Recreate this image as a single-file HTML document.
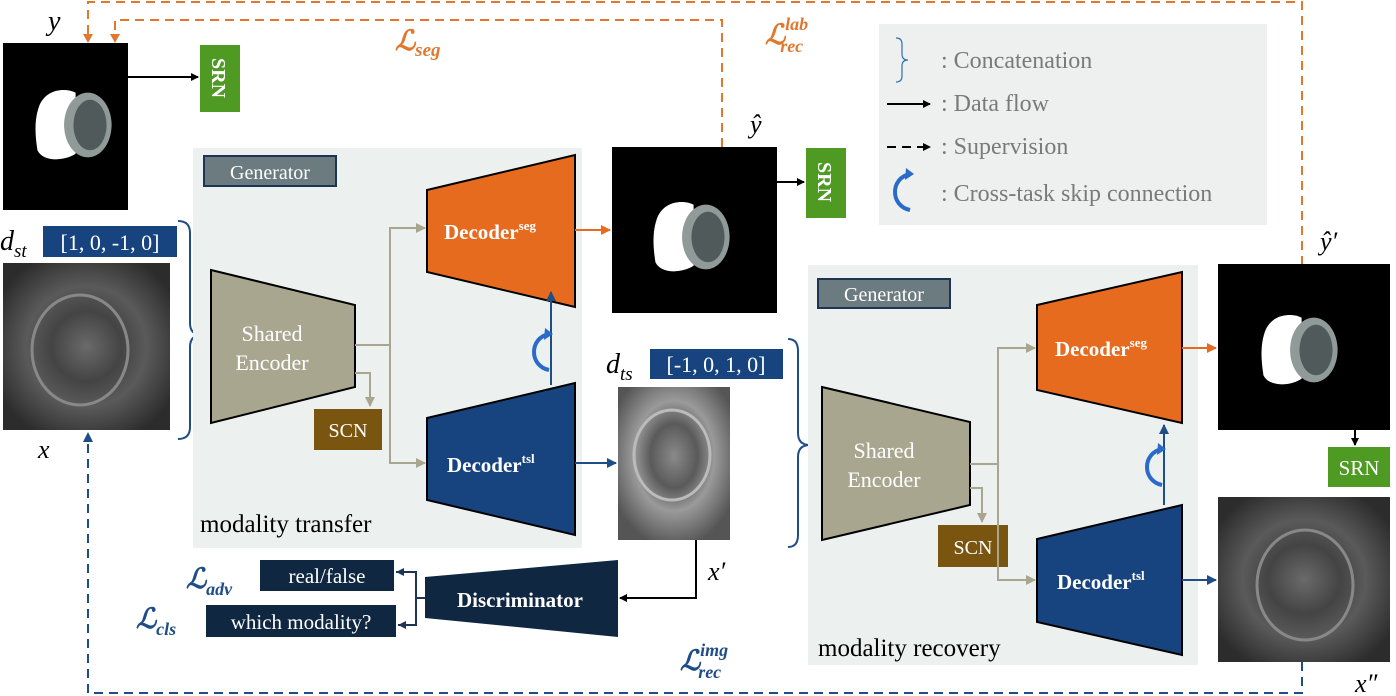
<!DOCTYPE html>
<html><head><meta charset="utf-8"><style>
html,body{margin:0;padding:0;background:#fff;}
svg{display:block;}
text{font-family:"Liberation Serif",serif;}
.w{fill:#fff;font-family:"Liberation Sans",sans-serif;}
.s{fill:#fff;font-family:"Liberation Serif",serif;}
.lg{fill:#7a7a7a;font-size:24px;}
</style></head><body>
<svg width="1396" height="696" viewBox="0 0 1396 696" xmlns="http://www.w3.org/2000/svg">
<defs>
<marker id="ab" markerWidth="8" markerHeight="8" refX="7" refY="4" orient="auto" markerUnits="userSpaceOnUse"><path d="M0,0 L8,4 L0,8z" fill="#000"/></marker>
<marker id="ao" markerWidth="10" markerHeight="10" refX="9" refY="5" orient="auto" markerUnits="userSpaceOnUse"><path d="M0,0 L10,5 L0,10z" fill="#e66b1e"/></marker>
<marker id="abl" markerWidth="10" markerHeight="10" refX="9" refY="5" orient="auto" markerUnits="userSpaceOnUse"><path d="M0,0 L10,5 L0,10z" fill="#1f4d86"/></marker>
<marker id="ag" markerWidth="10" markerHeight="10" refX="9" refY="5" orient="auto" markerUnits="userSpaceOnUse"><path d="M0,0 L10,5 L0,10z" fill="#a9a68f"/></marker>
<radialGradient id="mri" cx="50%" cy="50%" r="60%">
<stop offset="0" stop-color="#6a6a6a"/><stop offset="0.35" stop-color="#444"/><stop offset="0.6" stop-color="#5a5a5a"/><stop offset="1" stop-color="#2c2c2c"/></radialGradient>
<radialGradient id="mri2" cx="50%" cy="45%" r="60%">
<stop offset="0" stop-color="#8a8a8a"/><stop offset="0.35" stop-color="#5a5a5a"/><stop offset="0.6" stop-color="#9a9a9a"/><stop offset="1" stop-color="#555"/></radialGradient>
<g id="seg" transform="scale(0.72)">
<path d="M-45,-28 C-35,-50 -10,-52 5,-45 L5,40 C-10,50 -40,52 -48,35 C-52,10 -52,-10 -45,-28z" fill="#fff"/>
<ellipse cx="22" cy="0" rx="33" ry="45" fill="#8f9a99"/>
<ellipse cx="25" cy="0" rx="23" ry="35" fill="#505a5b"/>
</g>
<g id="skip"><path d="M8,-18 C-12,-14 -12,14 8,18" fill="none" stroke="#2a6ac8" stroke-width="4"/><path d="M4,-24 L12,-18 L3,-12z" fill="#2a6ac8"/></g>
</defs>

<g fill="none" stroke="#e0792f" stroke-width="2" stroke-dasharray="9,6">
<path d="M1302,265 V2 H88 V36"/>
<path d="M722,147 V20 H115 V36"/>
</g>
<path d="M83,34 L93,34 L88,43z M110,34 L120,34 L115,43z" fill="#e0792f"/>
<g fill="none" stroke="#1f4d86" stroke-width="2" stroke-dasharray="9,6">
<path d="M1302,662 V693 H88 V440"/>
</g>
<path d="M83,442 L93,442 L88,432z" fill="#1f4d86"/>

<text x="48" y="30" font-size="28" font-style="italic">y</text>
<text x="395" y="50" font-size="28" font-style="italic" font-weight="bold" fill="#e0792f">ℒ<tspan font-size="19" dy="6">seg</tspan></text>
<text x="765" y="44" font-size="28" font-style="italic" font-weight="bold" fill="#e0792f">ℒ<tspan font-size="18" dy="-14">lab</tspan><tspan font-size="18" dy="22" dx="-28">rec</tspan></text>

<rect x="879" y="24" width="388" height="201" fill="#edf0ef"/>
<path d="M896,38 q6,0 6,6 v10 q0,6 6,6 q-6,0 -6,6 v10 q0,6 -6,6" fill="none" stroke="#2f6fb3" stroke-width="1.2"/>
<text x="941" y="68" class="lg">: Concatenation</text>
<line x1="887" y1="104" x2="930" y2="104" stroke="#000" stroke-width="2" marker-end="url(#ab)"/>
<text x="941" y="111" class="lg">: Data flow</text>
<line x1="887" y1="147" x2="930" y2="147" stroke="#000" stroke-width="2" stroke-dasharray="9,6" marker-end="url(#ab)"/>
<text x="941" y="154" class="lg">: Supervision</text>
<use href="#skip" x="902" y="192"/>
<text x="941" y="201" class="lg">: Cross-task skip connection</text>

<rect x="3" y="43" width="125" height="167" fill="#000"/>
<use href="#seg" x="72" y="125"/>
<line x1="128" y1="77" x2="198" y2="77" stroke="#000" stroke-width="2" marker-end="url(#ab)"/>
<rect x="200" y="45" width="40" height="67" fill="#4e9a22"/>
<text class="s" font-weight="bold" font-size="20" transform="translate(212,58) rotate(90)">SRN</text>

<text x="0" y="250" font-size="28" font-style="italic">d<tspan font-size="19" dy="7">st</tspan></text>
<rect x="43" y="226" width="134" height="31" fill="#17447f"/>
<text x="110" y="250" class="s" font-size="22" text-anchor="middle">[1, 0, -1, 0]</text>
<rect x="3" y="263" width="167" height="167" fill="url(#mri)"/>
<ellipse cx="80" cy="350" rx="48" ry="55" fill="none" stroke="#888" stroke-width="3"/>
<text x="38" y="458" font-size="26" font-style="italic">x</text>
<path d="M178,221 q12,0 12,12 v90 q0,12 12,12 q-12,0 -12,12 v80 q0,12 -12,12" fill="none" stroke="#1f4d86" stroke-width="2"/>

<rect x="193" y="148" width="389" height="400" fill="#ecf0ef"/>
<rect x="204" y="156" width="132" height="30" fill="#6b7b80" stroke="#1c3552" stroke-width="2"/>
<text x="270" y="179" class="s" font-size="20" text-anchor="middle">Generator</text>
<polygon points="211,270 355,305 355,387 211,423" fill="#a9a68f" stroke="#000" stroke-width="2"/>
<text x="272" y="341" class="s" font-size="22" text-anchor="middle">Shared</text>
<text x="272" y="370" class="s" font-size="22" text-anchor="middle">Encoder</text>
<polygon points="427,190 575,155 575,307 427,272" fill="#e66b1e" stroke="#000" stroke-width="2"/>
<text x="444" y="239" class="s" font-size="21" font-weight="bold">Decoder<tspan font-size="13" dy="-9">seg</tspan></text>
<polygon points="427,418 575,383 575,535 427,500" fill="#17447f" stroke="#000" stroke-width="2"/>
<text x="447" y="472" class="s" font-size="21" font-weight="bold">Decoder<tspan font-size="13" dy="-9">tsl</tspan></text>
<rect x="314" y="409" width="68" height="41" fill="#7a5510"/>
<text x="348" y="437" class="s" font-size="20" text-anchor="middle">SCN</text>
<g fill="none" stroke="#a9a68f" stroke-width="2">
<path d="M355,345 H390 V228 H425" marker-end="url(#ag)"/>
<path d="M390,345 V463 H425" marker-end="url(#ag)"/>
<path d="M355,373 H370 V406" marker-end="url(#ag)"/>
</g>
<line x1="551" y1="385" x2="551" y2="292" stroke="#1f4d86" stroke-width="2" marker-end="url(#abl)"/>
<use href="#skip" x="541" y="352"/>
<text x="200" y="532" font-size="25">modality transfer</text>
<line x1="575" y1="230" x2="610" y2="230" stroke="#e66b1e" stroke-width="2" marker-end="url(#ao)"/>
<line x1="575" y1="463" x2="616" y2="463" stroke="#1f4d86" stroke-width="2" marker-end="url(#abl)"/>

<text x="750" y="133" font-size="26" font-style="italic">ŷ</text>
<rect x="612" y="147" width="165" height="166" fill="#000"/>
<use href="#seg" x="690" y="237"/>
<line x1="777" y1="182" x2="804" y2="182" stroke="#000" stroke-width="2" marker-end="url(#ab)"/>
<rect x="806" y="148" width="40" height="70" fill="#4e9a22"/>
<text class="s" font-weight="bold" font-size="20" transform="translate(818,162) rotate(90)">SRN</text>

<text x="606" y="373" font-size="28" font-style="italic">d<tspan font-size="19" dy="7">ts</tspan></text>
<rect x="650" y="349" width="133" height="30" fill="#17447f"/>
<text x="716" y="372" class="s" font-size="22" text-anchor="middle">[-1, 0, 1, 0]</text>
<rect x="618" y="387" width="112" height="153" fill="url(#mri2)"/>
<ellipse cx="672" cy="455" rx="38" ry="45" fill="none" stroke="#bbb" stroke-width="3"/>
<text x="708" y="580" font-size="26" font-style="italic">x′</text>
<path d="M788,339 q10,0 10,12 v82 q0,12 12,12 q-12,0 -12,12 v78 q0,12 -10,12" fill="none" stroke="#1f4d86" stroke-width="2"/>
<path d="M696,540 V598 H620" fill="none" stroke="#000" stroke-width="2" marker-end="url(#ab)"/>

<polygon points="425,577 618,560 618,637 425,618" fill="#0f2740"/>
<text x="520" y="607" class="s" font-size="21" font-weight="bold" text-anchor="middle">Discriminator</text>
<path d="M425,598 H416 V572 H396 M416,598 V625 H398" fill="none" stroke="#1c3552" stroke-width="2"/>
<path d="M396,572 l8,-4 v8z M398,625 l8,-4 v8z" fill="#1c3552"/>
<rect x="260" y="560" width="134" height="31" fill="#0f2740"/>
<text x="327" y="583" class="s" font-size="21" text-anchor="middle">real/false</text>
<rect x="206" y="605" width="190" height="32" fill="#0f2740"/>
<text x="301" y="629" class="s" font-size="21" text-anchor="middle">which modality?</text>
<text x="186" y="588" font-size="28" font-style="italic" font-weight="bold" fill="#1f4d86">ℒ<tspan font-size="18" dy="7">adv</tspan></text>
<text x="136" y="628" font-size="28" font-style="italic" font-weight="bold" fill="#1f4d86">ℒ<tspan font-size="18" dy="7">cls</tspan></text>
<text x="680" y="670" font-size="28" font-style="italic" font-weight="bold" fill="#1f4d86">ℒ<tspan font-size="18" dy="-14">img</tspan><tspan font-size="18" dy="22" dx="-30">rec</tspan></text>

<rect x="808" y="265" width="390" height="400" fill="#ecf0ef"/>
<rect x="818" y="279" width="132" height="29" fill="#6b7b80" stroke="#1c3552" stroke-width="2"/>
<text x="884" y="301" class="s" font-size="20" text-anchor="middle">Generator</text>
<polygon points="822,387 970,422 970,505 822,540" fill="#a9a68f" stroke="#000" stroke-width="2"/>
<text x="884" y="458" class="s" font-size="22" text-anchor="middle">Shared</text>
<text x="884" y="487" class="s" font-size="22" text-anchor="middle">Encoder</text>
<polygon points="1037,305 1182,272 1182,423 1037,390" fill="#e66b1e" stroke="#000" stroke-width="2"/>
<text x="1055" y="356" class="s" font-size="21" font-weight="bold">Decoder<tspan font-size="13" dy="-9">seg</tspan></text>
<polygon points="1037,539 1182,505 1182,655 1037,622" fill="#17447f" stroke="#000" stroke-width="2"/>
<text x="1057" y="589" class="s" font-size="21" font-weight="bold">Decoder<tspan font-size="13" dy="-9">tsl</tspan></text>
<rect x="938" y="525" width="70" height="42" fill="#7a5510"/>
<text x="973" y="554" class="s" font-size="20" text-anchor="middle">SCN</text>
<g fill="none" stroke="#a9a68f" stroke-width="2">
<path d="M970,464 H998 V348 H1035" marker-end="url(#ag)"/>
<path d="M998,464 V580 H1035" marker-end="url(#ag)"/>
<path d="M970,488 H982 V522" marker-end="url(#ag)"/>
</g>
<line x1="1164" y1="505" x2="1164" y2="425" stroke="#1f4d86" stroke-width="2" marker-end="url(#abl)"/>
<use href="#skip" x="1154" y="467"/>
<text x="818" y="656" font-size="25">modality recovery</text>
<line x1="1182" y1="348" x2="1216" y2="348" stroke="#e66b1e" stroke-width="2" marker-end="url(#ao)"/>
<line x1="1182" y1="580" x2="1216" y2="580" stroke="#1f4d86" stroke-width="2" marker-end="url(#abl)"/>

<text x="1320" y="250" font-size="26" font-style="italic">ŷ′</text>
<rect x="1218" y="264" width="172" height="166" fill="#000"/>
<use href="#seg" x="1298" y="350"/>
<line x1="1355" y1="430" x2="1355" y2="445" stroke="#000" stroke-width="2" marker-end="url(#ab)"/>
<rect x="1328" y="447" width="62" height="40" fill="#4e9a22"/>
<text x="1359" y="475" class="s" font-size="21" text-anchor="middle">SRN</text>
<rect x="1218" y="497" width="172" height="165" fill="url(#mri)"/>
<ellipse cx="1305" cy="585" rx="48" ry="55" fill="none" stroke="#888" stroke-width="3"/>
<text x="1355" y="692" font-size="26" font-style="italic">x″</text>
</svg>
</body></html>
